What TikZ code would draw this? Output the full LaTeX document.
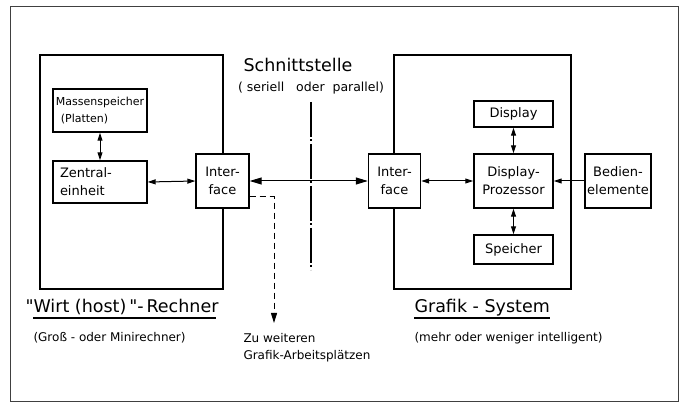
\documentclass[tikz,border=0pt]{standalone}
\usepackage{fontspec}
\setmainfont{DejaVu Sans}
\usetikzlibrary{arrows.meta, calc}
\newcommand{\vda}[2]{% vertical double arrows
  \draw [<->] (#1.south) -- (#2.north);
  }
\newcommand{\hda}[2]{% horizontal double arrows
  \draw [<->] (#1.east) -- (#2.west);
  }

\begin{document}
\begin{tikzpicture}[
  x=1pt, y=-1pt,
  line width=1pt,
  >={Triangle[length=8pt,width=5pt]},
  unit/.style={
    % The shape:
    rectangle,
    % The border:
    draw, line width=1.4pt,
    % The filling:
    fill=white,
    % Font
    font=\fontsize{13}{18}\selectfont,
    align=center,
    inner sep=1pt
  },
  system/.style={
    % big frame round a whole computer
    draw, line width=1.4pt,
    minimum width=#1, minimum height=234pt
  },
  title/.style={font=\fontsize{17.5}{20}\selectfont, inner sep=0pt},
  note/.style={font=\fontsize{12}{17}\selectfont, align=left, inner sep=0pt},
  ]

  \useasboundingbox (0,0) rectangle (683,403);
  \draw [black!75] (10.5,6.5) rectangle (678,401);

  % the two systems
  \node (host) [system=183pt] at (131.5,172) {};
  \node (grafik) [system=177pt] at (482.5,172) {};

  % units of the host
  \node (mass) [unit, minimum width=94pt, minimum height=43pt, align=left,
    font=\fontsize{11}{17}\selectfont] at (100,110.5)
    {Massenspeicher\\\hspace{5pt}(Platten)};
  \node (zentral) [unit, text width=80pt, inner xsep=7pt, minimum height=42pt,
    align=left] at (100,182) {Zentral-\\einheit};
  \node (ifL) [unit, minimum width=53pt, minimum height=54pt] at (222.5,181)
    {Inter-\\face};

  % units of the graphics system
  \node (ifR) [unit, minimum width=52pt, minimum height=54pt] at (394.5,181)
    {Inter-\\face};
  \node (display) [unit, minimum width=79pt, minimum height=26pt] at (513.5,114)
    {Display};
  \node (dp) [unit, minimum width=79pt, minimum height=54pt] at (513.5,181)
    {Display-\\Prozessor};
  \node (speicher) [unit, minimum width=79pt, minimum height=29pt] at (513.5,249.5)
    {Speicher};
  \node (bedien) [unit, minimum width=66pt, minimum height=54pt] at (618,181)
    {Bedien-\\elemente};

  % couplings inside the systems
  \foreach \a/\b in {mass/zentral, display/dp, dp/speicher}
  {
    \vda{\a}{\b}
  }
  \foreach \a/\b in {zentral/ifL, ifR/dp}
  {
    \hda{\a}{\b}
  }
  \draw [->] (bedien.west) -- (dp.east);

  % the interface line between both systems
  \draw [{Triangle[length=12pt,width=7pt]}-{Triangle[length=12pt,width=7pt]}]
    (ifL.east) -- (ifR.west);
  \coordinate (cuttop) at (311,102);
  \coordinate (cutbot) at (311,270);
  \draw [line width=1.6pt, dash pattern=on 35pt off 2.5pt on 2pt off 2.5pt]
    (cuttop) -- (cutbot);

  % to further work places
  \coordinate (knick) at (274,197);
  \coordinate (zuw) at (274,323);
  \draw [dash pattern=on 6pt off 4pt,
    -{Triangle[length=10pt,width=6pt]}] (ifL.east |- knick) -- (knick) -- (zuw);

  % texts
  \node (schnitt) [title] at (298,65) {Schnittstelle};
  \node (seriell) [note, font=\fontsize{12.5}{17}\selectfont] at (311,88)
    {(\ seriell\ \ \ oder\ \ parallel)};
  \node (wirt) [title, anchor=base west] at (25,313)
    {\textquotedbl Wirt (host)\,\textquotedbl-\,Rechner};
  \draw [line width=1.3pt] ($(wirt.base west)+(8,5)$) -- ($(wirt.base east)+(-3,5)$);
  \node (gross) [note, anchor=west] at (33,338) {(Groß - oder Minirechner)};
  \node (system) [title, anchor=base west] at (414,313) {Grafik - System};
  \draw [line width=1.3pt] ($(system.base west)+(0,5)$) -- ($(system.base east)+(0,5)$);
  \node (mehr) [note, anchor=west] at (414,338) {(mehr oder weniger intelligent)};
  \node (weitere) [note, anchor=north west] at (243,333)
    {Zu weiteren\\Grafik-Arbeitsplätzen};

\end{tikzpicture}
\end{document}
